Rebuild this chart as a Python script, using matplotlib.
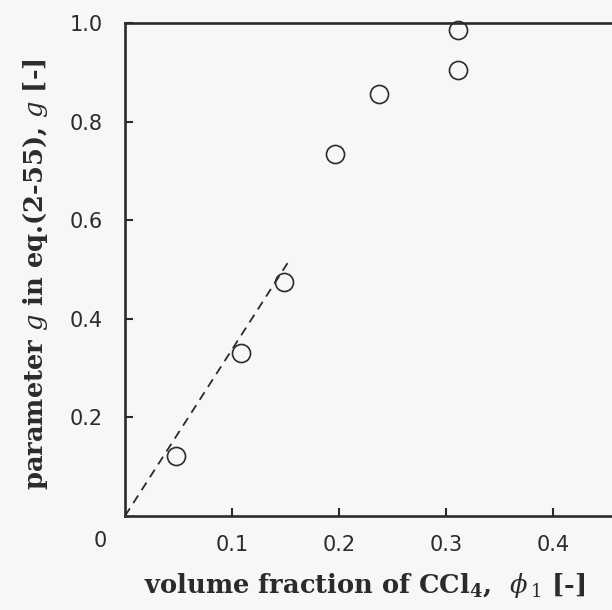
"""
Parameter g versus volume fraction of CCl4 (scanned figure recreation).
"""

import matplotlib
matplotlib.use("Agg")
import matplotlib.pyplot as plt
import matplotlib.transforms as mtransforms

# -- data ----------------------------------------------------------------------
phi = [0.048, 0.108, 0.149, 0.196, 0.237, 0.311, 0.311]
g_val = [0.121, 0.331, 0.475, 0.735, 0.855, 0.905, 0.986]

# dashed initial-slope line
fit_phi = [0.0, 0.152]
fit_g = [0.0, 0.513]

x_ticks = [0.1, 0.2, 0.3, 0.4]
x_ticklabels = ["0.1", "0.2", "0.3", "0.4"]
y_ticks = [0.2, 0.4, 0.6, 0.8, 1.0]
y_ticklabels = ["0.2", "0.4", "0.6", "0.8", "1.0"]

INK = "#2b2b2b"
PAPER = "#f7f7f6"

plt.rcParams["mathtext.fontset"] = "dejavuserif"

fig = plt.figure(figsize=(6.12, 6.10), dpi=100, facecolor=PAPER)
# axes run past the right edge of the picture, like the cropped scan
ax = fig.add_axes([0.2042, 0.1541, 0.874, 0.8082], facecolor=PAPER)

ax.plot(fit_phi, fit_g, color=INK, lw=1.3, dashes=(5, 3.5), zorder=2)
ax.plot(phi, g_val, linestyle="none", marker="o", ms=13, mfc="none",
        mec=INK, mew=1.2, zorder=3, clip_on=False)

ax.set_xlim(0, 0.5)
ax.set_ylim(0, 1.0)

for side in ("left", "bottom", "top", "right"):
    ax.spines[side].set_color(INK)
    ax.spines[side].set_linewidth(1.9)

ax.set_xticks(x_ticks)
ax.set_xticklabels(x_ticklabels)
ax.set_yticks(y_ticks)
ax.set_yticklabels(y_ticklabels)
ax.tick_params(axis="both", direction="in", length=6, width=1.5, color=INK,
               labelcolor=INK, labelsize=15)
ax.tick_params(axis="x", pad=14)
ax.tick_params(axis="y", pad=16)
for lab in ax.get_xticklabels() + ax.get_yticklabels():
    lab.set_family("DejaVu Sans")

# shared origin label
offset = mtransforms.ScaledTranslation(-25 / 100, -15 / 100, fig.dpi_scale_trans)
ax.text(0, 0, "0", transform=ax.transAxes + offset, ha="center", va="top",
        fontsize=15, color=INK, family="DejaVu Sans")

fig.text(0.595, 0.04, r"volume fraction of CCl$_\mathbf{4}$,  $\phi_{\,\mathit{1}}$ [-]",
         ha="center", va="center", fontsize=18.5, color=INK,
         family="DejaVu Serif", weight="bold")
fig.text(0.058, 0.55, r"parameter $g$ in eq.(2-55), $g$ [-]",
         ha="center", va="center", rotation=90, fontsize=18.5, color=INK,
         family="DejaVu Serif", weight="bold")

fig.savefig("out.png", dpi=100, facecolor=PAPER)
plt.close(fig)
